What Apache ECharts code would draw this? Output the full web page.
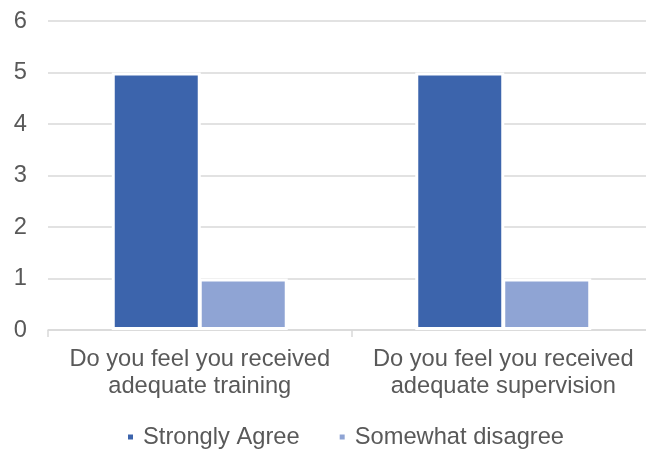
<!DOCTYPE html>
<html>
<head>
<meta charset="utf-8">
<script src="https://cdn.jsdelivr.net/npm/echarts@6/dist/echarts.min.js"></script>
<style>
  html, body { margin: 0; padding: 0; background: #fff; }
  #chart { width: 646px; height: 450px; }
</style>
</head>
<body>
<div id="chart"></div>
<script>
// Survey questions and answer counts
const categories = [
  'Do you feel you received adequate training',
  'Do you feel you received adequate supervision'
];
const stronglyAgree = [5, 5];
const somewhatDisagree = [1, 1];
const seriesNames = ['Strongly Agree', 'Somewhat disagree'];
const yTicks = [0, 1, 2, 3, 4, 5, 6];

const textColor = '#595959';
const fontFamily = 'Liberation Sans, Arial, sans-serif';
const fontSize = 23.7;

// white outline drawn inside each bar, bars overlap slightly so the outlines touch
const barStyle = { barWidth: 89, barGap: '-2.25%' };

// wrap question text onto two lines before "adequate"
function wrapQuestion(text) {
  return text.replace(/ (adequate)/, '\n$1');
}

const chart = echarts.init(document.getElementById('chart'), null, { renderer: 'canvas' });
chart.setOption({
  animation: false,
  backgroundColor: '#ffffff',
  grid: {
    left: 48, top: 21, bottom: 120, width: 607,
    containLabel: false,
    outerBoundsMode: 'none'
  },
  legend: {
    top: 425,
    left: 126,
    padding: 0,
    itemWidth: 7,
    itemHeight: 7,
    itemGap: 38,
    icon: 'rect',
    textStyle: { color: textColor, fontSize: fontSize, lineHeight: 24, fontFamily: fontFamily, padding: [0, 0, 0, 4] },
    data: seriesNames
  },
  xAxis: {
    type: 'category',
    data: categories,
    axisLine: { lineStyle: { color: '#d9d9d9', width: 1.5 } },
    axisTick: { show: true, length: 7, lineStyle: { color: '#d9d9d9', width: 1.5 } },
    axisLabel: {
      color: textColor,
      fontSize: fontSize,
      fontFamily: fontFamily,
      lineHeight: 27,
      margin: 16,
      interval: 0,
      formatter: wrapQuestion
    }
  },
  yAxis: {
    type: 'value',
    min: yTicks[0],
    max: yTicks[yTicks.length - 1],
    interval: 1,
    axisLine: { show: false },
    axisTick: { show: false },
    splitLine: { lineStyle: { color: '#d9d9d9', width: 1.5 } },
    axisLabel: { color: textColor, fontSize: fontSize, fontFamily: fontFamily, margin: 21 }
  },
  series: [
    {
      name: seriesNames[0],
      type: 'bar',
      data: stronglyAgree,
      barWidth: barStyle.barWidth,
      barGap: barStyle.barGap,
      itemStyle: { color: '#3c64ac', borderColor: '#ffffff', borderWidth: 3 }
    },
    {
      name: seriesNames[1],
      type: 'bar',
      data: somewhatDisagree,
      barWidth: barStyle.barWidth,
      barGap: barStyle.barGap,
      itemStyle: { color: '#8fa4d4', borderColor: '#ffffff', borderWidth: 3 }
    }
  ]
});
</script>
</body>
</html>
